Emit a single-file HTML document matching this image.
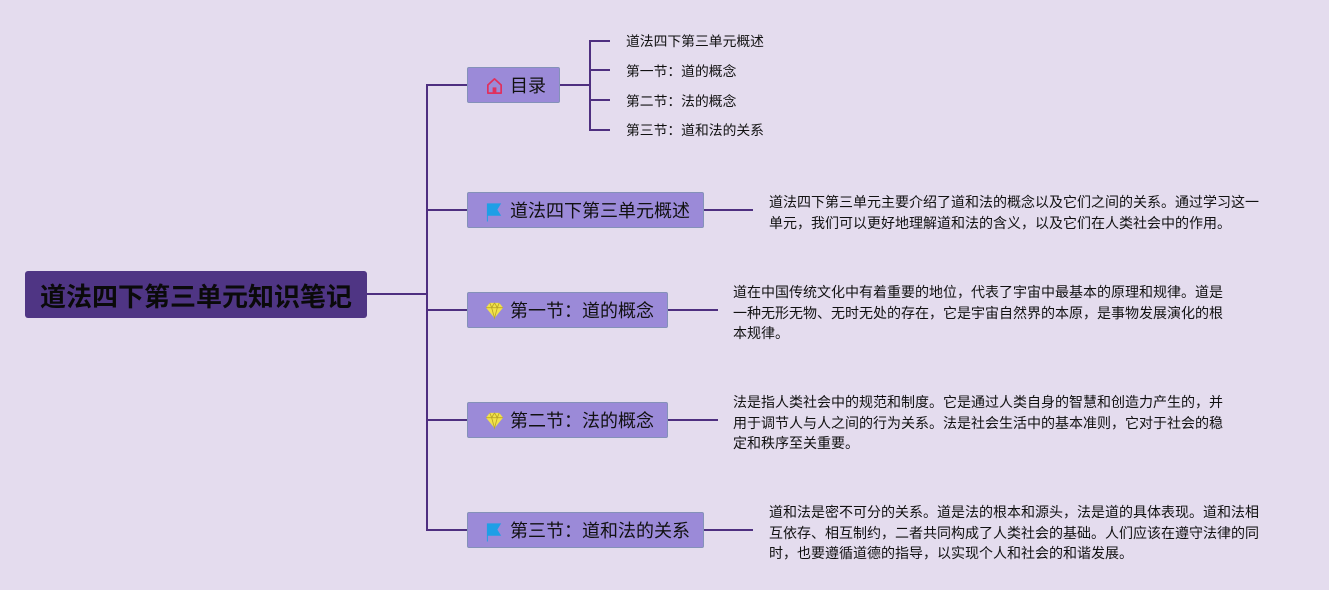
<!DOCTYPE html>
<html>
<head>
<meta charset="utf-8">
<style>
  html,body{margin:0;padding:0;}
  body{width:1329px;height:590px;background:#e4dcee;position:relative;overflow:hidden;
    font-family:"Liberation Sans","Noto Sans CJK SC","WenQuanYi Zen Hei",sans-serif;color:#111;}
  svg.lines{position:absolute;left:0;top:0;}
  .root{position:absolute;left:25px;top:271px;width:342px;height:47px;background:#4f3584;border-radius:3px;
    box-sizing:border-box;font-size:26px;font-weight:bold;color:#0a0a0a;line-height:47px;padding-top:3px;text-align:center;letter-spacing:0px;}
  .node{position:absolute;left:467px;height:36px;background:#9b8ad8;border:1.5px solid #8491b9;border-radius:2px;
    box-sizing:border-box;font-size:18px;line-height:33px;color:#111;white-space:nowrap;}
  .node .ic{position:absolute;left:17px;top:8px;width:19px;height:19px;}
  .node .t{position:absolute;left:42px;top:2px;}
  .sub{position:absolute;left:626px;font-size:13.8px;line-height:20px;white-space:nowrap;color:#111;}
  .desc{position:absolute;font-size:14px;line-height:20.5px;white-space:nowrap;color:#111;}
</style>
</head>
<body>
<svg class="lines" width="1329" height="590" viewBox="0 0 1329 590">
  <g stroke="#4e2f80" stroke-width="2" fill="none">
    <line x1="367" y1="294" x2="427" y2="294"/>
    <line x1="427" y1="84" x2="427" y2="531"/>
    <line x1="426" y1="85" x2="467" y2="85"/>
    <line x1="426" y1="210" x2="467" y2="210"/>
    <line x1="426" y1="310" x2="467" y2="310"/>
    <line x1="426" y1="420" x2="467" y2="420"/>
    <line x1="426" y1="530" x2="467" y2="530"/>
    <line x1="560" y1="85" x2="590" y2="85"/>
    <line x1="590" y1="40" x2="590" y2="131"/>
    <line x1="589" y1="41" x2="610" y2="41"/>
    <line x1="589" y1="70" x2="610" y2="70"/>
    <line x1="589" y1="100" x2="610" y2="100"/>
    <line x1="589" y1="130" x2="610" y2="130"/>
    <line x1="704" y1="210" x2="753" y2="210"/>
    <line x1="668" y1="310" x2="718" y2="310"/>
    <line x1="668" y1="420" x2="718" y2="420"/>
    <line x1="704" y1="530" x2="753" y2="530"/>
  </g>
</svg>

<div class="root">道法四下第三单元知识笔记</div>

<div class="node" style="top:67px;width:93px;">
  <svg class="ic" viewBox="0 0 20 20">
    <path d="M3 9.5 L10 3 L17 9.5 L17 18 L3 18 Z" fill="none" stroke="#e0305e" stroke-width="1.8" stroke-linejoin="round"/>
    <rect x="8" y="12" width="4" height="6" fill="#e0305e"/>
  </svg>
  <span class="t">目录</span>
</div>

<div class="node" style="top:192px;width:237px;">
  <svg class="ic" viewBox="0 0 20 20" style="top:7px;height:22px;">
    <path d="M2 2 L17 2 L13 8.5 L17 15 L3 15 L3 21 L2 21 Z" fill="#1e9fe6"/>
  </svg>
  <span class="t">道法四下第三单元概述</span>
</div>

<div class="node" style="top:292px;width:201px;">
  <svg class="ic" viewBox="0 0 20 20">
    <path d="M5 2 L15 2 L19 7 L10 18 L1 7 Z" fill="#f2e24a"/>
    <path d="M1 7 L19 7 M5 2 L7 7 L10 18 L13 7 L15 2 M10 2 L7 7 M10 2 L13 7" stroke="#b9a52a" stroke-width="0.9" fill="none"/>
  </svg>
  <span class="t">第一节：道的概念</span>
</div>

<div class="node" style="top:402px;width:201px;">
  <svg class="ic" viewBox="0 0 20 20">
    <path d="M5 2 L15 2 L19 7 L10 18 L1 7 Z" fill="#f2e24a"/>
    <path d="M1 7 L19 7 M5 2 L7 7 L10 18 L13 7 L15 2 M10 2 L7 7 M10 2 L13 7" stroke="#b9a52a" stroke-width="0.9" fill="none"/>
  </svg>
  <span class="t">第二节：法的概念</span>
</div>

<div class="node" style="top:512px;width:237px;">
  <svg class="ic" viewBox="0 0 20 20" style="top:7px;height:22px;">
    <path d="M2 2 L17 2 L13 8.5 L17 15 L3 15 L3 21 L2 21 Z" fill="#1e9fe6"/>
  </svg>
  <span class="t">第三节：道和法的关系</span>
</div>

<div class="sub" style="top:32px;">道法四下第三单元概述</div>
<div class="sub" style="top:62px;">第一节：道的概念</div>
<div class="sub" style="top:92px;">第二节：法的概念</div>
<div class="sub" style="top:121px;">第三节：道和法的关系</div>

<div class="desc" style="left:769px;top:192px;">道法四下第三单元主要介绍了道和法的概念以及它们之间的关系。通过学习这一<br>单元，我们可以更好地理解道和法的含义，以及它们在人类社会中的作用。</div>

<div class="desc" style="left:733px;top:282px;">道在中国传统文化中有着重要的地位，代表了宇宙中最基本的原理和规律。道是<br>一种无形无物、无时无处的存在，它是宇宙自然界的本原，是事物发展演化的根<br>本规律。</div>

<div class="desc" style="left:733px;top:392px;">法是指人类社会中的规范和制度。它是通过人类自身的智慧和创造力产生的，并<br>用于调节人与人之间的行为关系。法是社会生活中的基本准则，它对于社会的稳<br>定和秩序至关重要。</div>

<div class="desc" style="left:769px;top:502px;">道和法是密不可分的关系。道是法的根本和源头，法是道的具体表现。道和法相<br>互依存、相互制约，二者共同构成了人类社会的基础。人们应该在遵守法律的同<br>时，也要遵循道德的指导，以实现个人和社会的和谐发展。</div>

</body>
</html>
